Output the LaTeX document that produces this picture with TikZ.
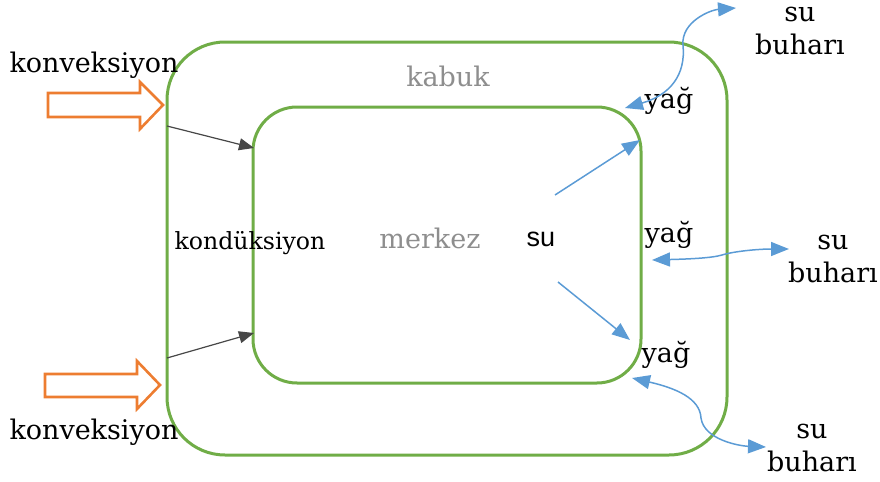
\documentclass[tikz,border=0pt]{standalone}
\usepackage{fontspec}
\setmainfont{DejaVu Serif}
\newfontfamily\sansfont{Liberation Sans}
\usetikzlibrary{arrows.meta}

\definecolor{shellgreen}{HTML}{70AD47}
\definecolor{heatorange}{HTML}{ED7D31}
\definecolor{vapourblue}{HTML}{5B9BD5}
\definecolor{namegray}{HTML}{8E8E8E}

\tikzset{
  layer/.style={draw=shellgreen, line width=1.5pt, rounded corners=#1},
  heat/.style={draw=heatorange, line width=1.3pt},
  txt/.style={font=\fontsize{13.5}{16.5}\selectfont, inner sep=0pt},
  smalltxt/.style={font=\fontsize{11.8}{14}\selectfont, inner sep=0pt},
  cond/.style={black!72, line width=0.6pt, -{Triangle[length=7.5pt,width=6pt]}},
  flow/.style={vapourblue, line width=0.75pt, -{Triangle[length=9pt,width=7pt]}},
  swap/.style={vapourblue, line width=0.75pt, {Triangle[length=9pt,width=7pt]}-{Triangle[length=9pt,width=7pt]}}
}

\begin{document}
\begin{tikzpicture}[x=0.5pt, y=-0.5pt]
 \useasboundingbox (0,0) rectangle (880,482);

 %Shell and core
 \draw[layer=29pt] (167,42) rectangle (727,455);
 \draw[layer=22pt] (253,107) rectangle (641,383);

 %Convection arrows
 \draw[heat] (48,93) -- (140,93) -- (140,82) -- (163,105) -- (140,129) -- (140,117) -- (48,117) -- cycle;
 \draw[heat] (45,374) -- (137,374) -- (137,361) -- (160,385) -- (137,409) -- (137,397) -- (45,397) -- cycle;
 \node[txt] (conv1) at (94,65) {konveksiyon};
 \node[txt] (conv2) at (94,432) {konveksiyon};

 %Labels inside
 \node[txt, text=namegray] (shell) at (448,76) {kabuk};
 \node[txt, text=namegray] (core) at (430,238) {merkez};
 \node[font=\sansfont\fontsize{13.5}{16}\selectfont, inner sep=0pt] (water) at (541,239) {su};
 \node[smalltxt] (conduct) at (250,243) {kondüksiyon};

 \node[txt] (oil1) at (669,101) {yağ};
 \node[txt] (oil2) at (669,235) {yağ};
 \node[txt] (oil3) at (666,355) {yağ};

 \node[txt, align=center] (vap1) at (800,31) {su\\buharı};
 \node[txt, align=center] (vap2) at (833,259) {su\\buharı};
 \node[txt, align=center] (vap3) at (812,448) {su\\buharı};

 %Conduction
 \coordinate (c1a) at (167,126);
 \coordinate (c1b) at (254,148);
 \coordinate (c2a) at (167,358);
 \coordinate (c2b) at (254,333);
 \draw[cond] (c1a) -- (c1b);
 \draw[cond] (c2a) -- (c2b);

 %Water moving out
 \coordinate (w1a) at (555,195);
 \coordinate (w1b) at (640,140);
 \coordinate (w2a) at (558,282);
 \coordinate (w2b) at (630,340);
 \draw[flow] (w1a) -- (w1b);
 \draw[flow] (w2a) -- (w2b);

 \coordinate (o1) at (625,108);
 \coordinate (s1) at (736,8);
 \coordinate (o2) at (652,260);
 \coordinate (s2) at (789,249);
 \coordinate (o3) at (632,378);
 \coordinate (s3) at (766,447);
 \draw[swap] (o1) .. controls (670,95) and (686,75) .. (683,45) .. controls (681,22) and (710,10) .. (s1);
 \draw[swap] (o2) .. controls (690,259) and (712,258) .. (722,255) .. controls (735,251) and (760,249) .. (s2);
 \draw[swap] (o3) .. controls (675,388) and (700,398) .. (701,418) .. controls (704,440) and (740,446) .. (s3);

\end{tikzpicture}
\end{document}
